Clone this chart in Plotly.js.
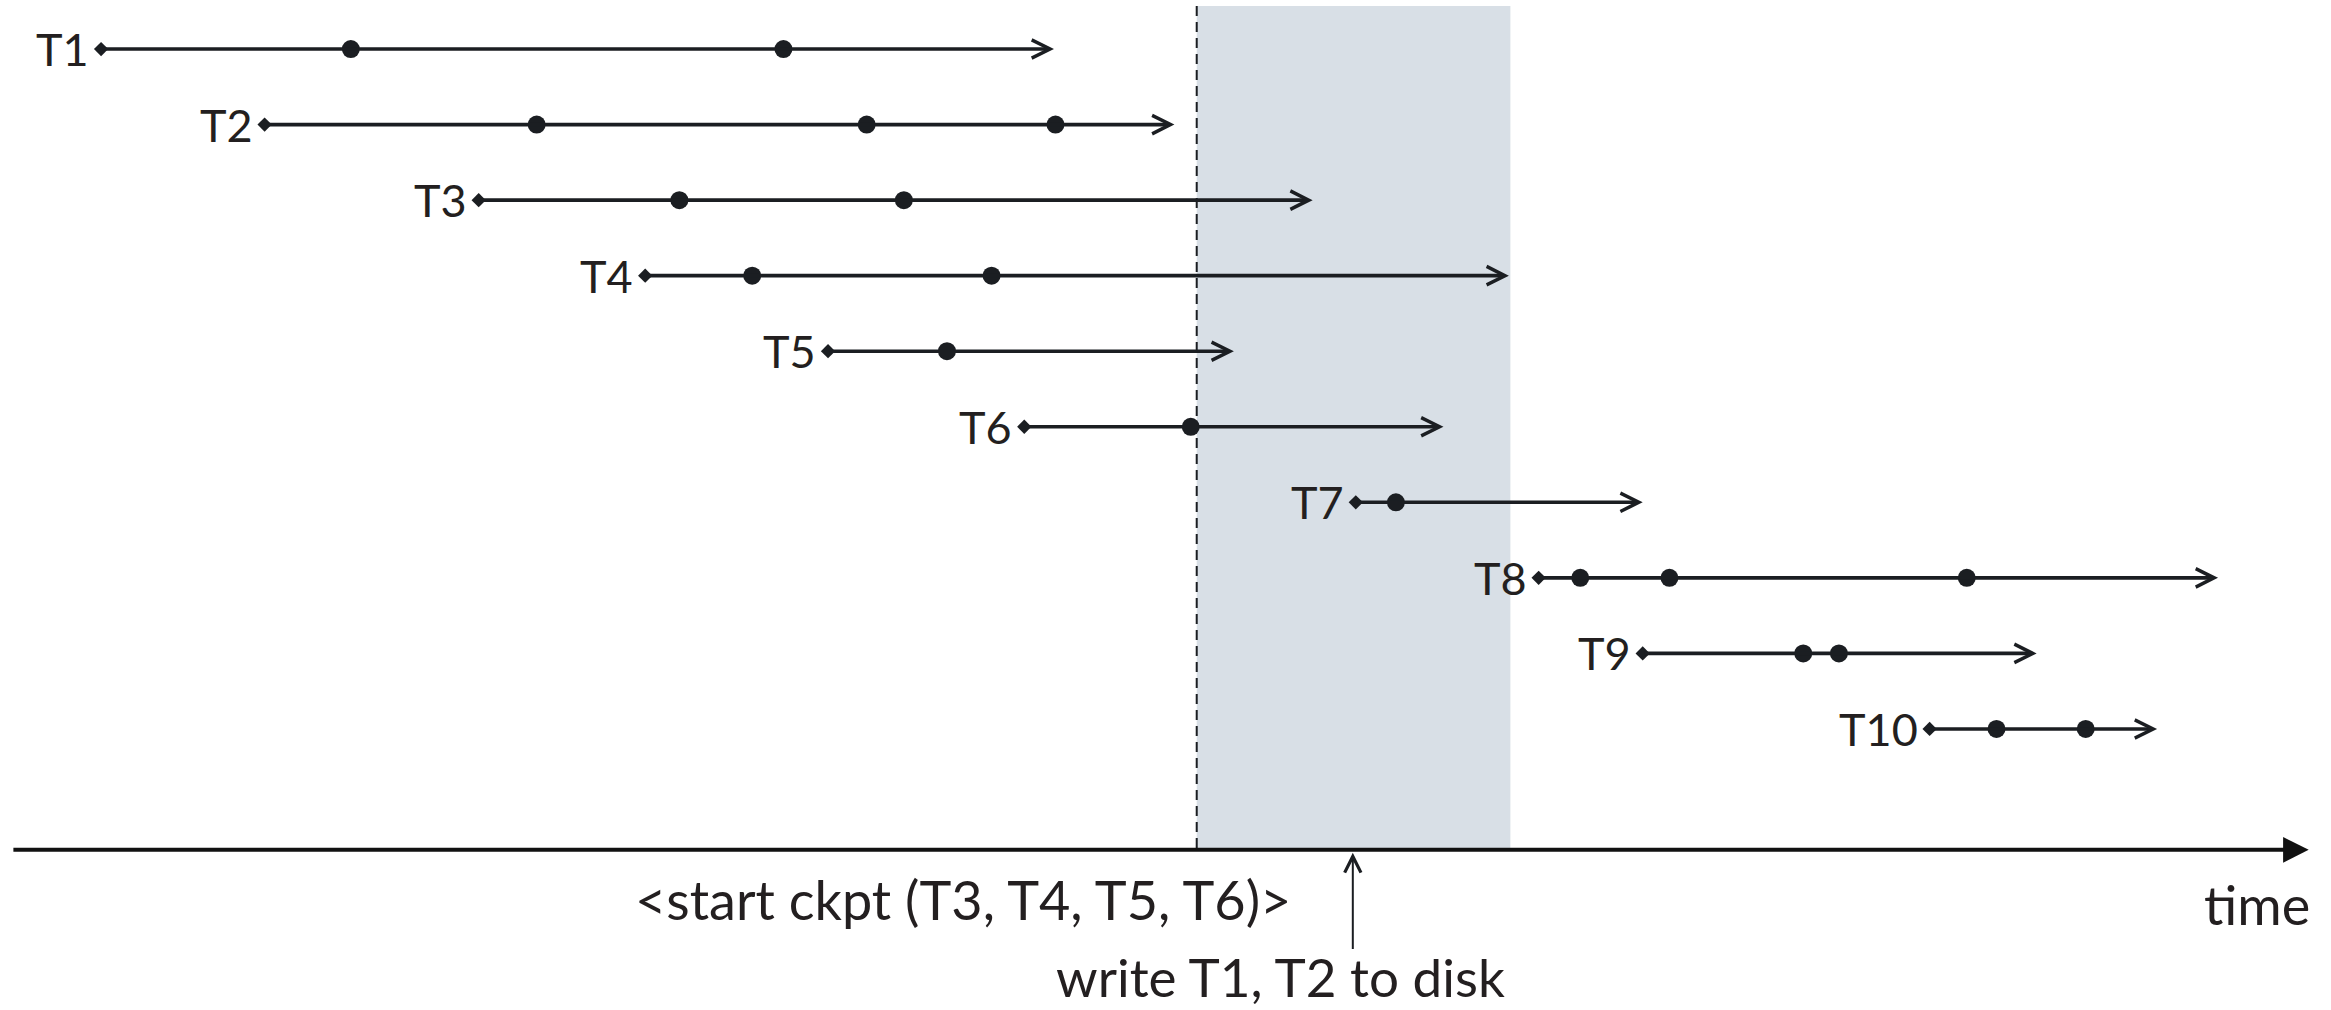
<!DOCTYPE html>
<html>
<head>
<meta charset="utf-8">
<script src="https://cdn.plot.ly/plotly-3.0.1.min.js"></script>
<style>
html,body{margin:0;padding:0;background:#ffffff;overflow:hidden;}
#chart{width:2331px;height:1010px;}
</style>
</head>
<body>
<div id="chart"></div>
<script>
// ---- data (time in arbitrary units) ----
const transactions = ['T1','T2','T3','T4','T5','T6','T7','T8','T9','T10'];
const startTimes = [6.8, 17.8, 32.2, 43.4, 55.7, 68.9, 91.2, 103.5, 110.5, 129.8];
const endTimes   = [70.9, 79.0, 88.3, 101.5, 83.0, 97.1, 110.5, 149.2, 137.0, 145.1];
const actionTimes = [
  [23.6, 52.7],
  [36.1, 58.3, 71.0],
  [45.7, 60.8],
  [50.6, 66.7],
  [63.7],
  [80.1],
  [93.9],
  [106.3, 112.3, 132.3],
  [121.3, 123.7],
  [134.3, 140.3]
];
const ckptStart = 80.5;
const ckptEnd = 101.6;
const writeTime = 91.0;
const timeAxisStart = 0.8;
const timeAxisEnd = 155.3;
const ckptLabel = '&lt;start ckpt (T3, T4, T5, T6)&gt;';
const writeLabel = 'write T1, T2 to disk';
const axisLabel = 'time';

// ---- layout helpers ----
const rows = transactions.map((_, i) => i + 1);
const axisRow = 11.6;
const INK = '#1b1e22';
const TXT = '#231f20';
const FONT = 'Lato, "Open Sans", sans-serif';
const FS_LABEL = 45;
const FS_NOTE = 54;

// start diamonds
const startTrace = {
  type: 'scatter', mode: 'markers',
  x: startTimes, y: rows,
  marker: {symbol: 'diamond', size: 11, color: INK},
  hoverinfo: 'skip', showlegend: false
};
// action dots
const dx = [], dy = [];
actionTimes.forEach((arr, i) => arr.forEach(t => { dx.push(t); dy.push(rows[i]); }));
const dotTrace = {
  type: 'scatter', mode: 'markers',
  x: dx, y: dy,
  marker: {symbol: 'circle', size: 18, color: INK},
  hoverinfo: 'skip', showlegend: false
};

const annotations = [];
transactions.forEach((name, i) => {
  // arrow line
  annotations.push({
    x: endTimes[i], y: rows[i], xref: 'x', yref: 'y',
    ax: startTimes[i], ay: rows[i], axref: 'x', ayref: 'y',
    text: ' ', font: {size: 1},
    showarrow: true, arrowhead: 5, arrowsize: 1.0, arrowwidth: 3.6,
    arrowcolor: INK, standoff: 0, startstandoff: 0
  });
  // label
  annotations.push({
    x: startTimes[i], y: rows[i], xref: 'x', yref: 'y',
    text: name, showarrow: false,
    xanchor: 'right', yanchor: 'middle', xshift: -10,
    font: {family: FONT, size: FS_LABEL, color: TXT}
  });
});
// time axis
annotations.push({
  x: timeAxisEnd, y: axisRow, xref: 'x', yref: 'y',
  ax: timeAxisStart, ay: axisRow, axref: 'x', ayref: 'y',
  text: ' ', font: {size: 1},
  showarrow: true, arrowhead: 2, arrowsize: 1.28, arrowwidth: 4,
  arrowcolor: '#111111', standoff: 0, startstandoff: 0
});
// write arrow
annotations.push({
  x: writeTime, y: 11.64, xref: 'x', yref: 'y',
  ax: writeTime, ay: 12.94, axref: 'x', ayref: 'y',
  text: ' ', font: {size: 1},
  showarrow: true, arrowhead: 5, arrowsize: 1.6, arrowwidth: 2,
  arrowcolor: INK, standoff: 0, startstandoff: 0
});
// texts
annotations.push({
  x: 64.75, y: 12.26, xref: 'x', yref: 'y', text: ckptLabel, showarrow: false,
  xanchor: 'center', yanchor: 'middle', font: {family: FONT, size: FS_NOTE, color: TXT}
});
annotations.push({
  x: 86.15, y: 13.28, xref: 'x', yref: 'y', text: writeLabel, showarrow: false,
  xanchor: 'center', yanchor: 'middle', font: {family: FONT, size: 53, color: TXT}
});
annotations.push({
  x: 151.8, y: 12.32, xref: 'x', yref: 'y', text: axisLabel, showarrow: false,
  xanchor: 'center', yanchor: 'middle', font: {family: FONT, size: FS_NOTE, color: TXT}
});

const shapes = [
  {type: 'rect', xref: 'x', yref: 'y', x0: ckptStart, x1: ckptEnd, y0: 0.431, y1: axisRow,
   fillcolor: '#d8dfe6', line: {width: 0}, layer: 'below'},
  {type: 'line', xref: 'x', yref: 'y', x0: ckptStart, x1: ckptStart, y0: 0.431, y1: axisRow,
   line: {color: '#1b1e22', width: 2, dash: '10px,6px'}, layer: 'below'}
];

const layout = {
  width: 2331, height: 1010,
  margin: {l: 0, r: 0, t: 0, b: 0, pad: 0},
  paper_bgcolor: '#ffffff', plot_bgcolor: '#ffffff',
  xaxis: {range: [0, 156.8], visible: false, fixedrange: true},
  yaxis: {range: [13.72, 0.351], visible: false, fixedrange: true},
  showlegend: false,
  shapes: shapes,
  annotations: annotations
};

Plotly.newPlot('chart', [startTrace, dotTrace], layout, {staticPlot: true, displayModeBar: false});
</script>
</body>
</html>
